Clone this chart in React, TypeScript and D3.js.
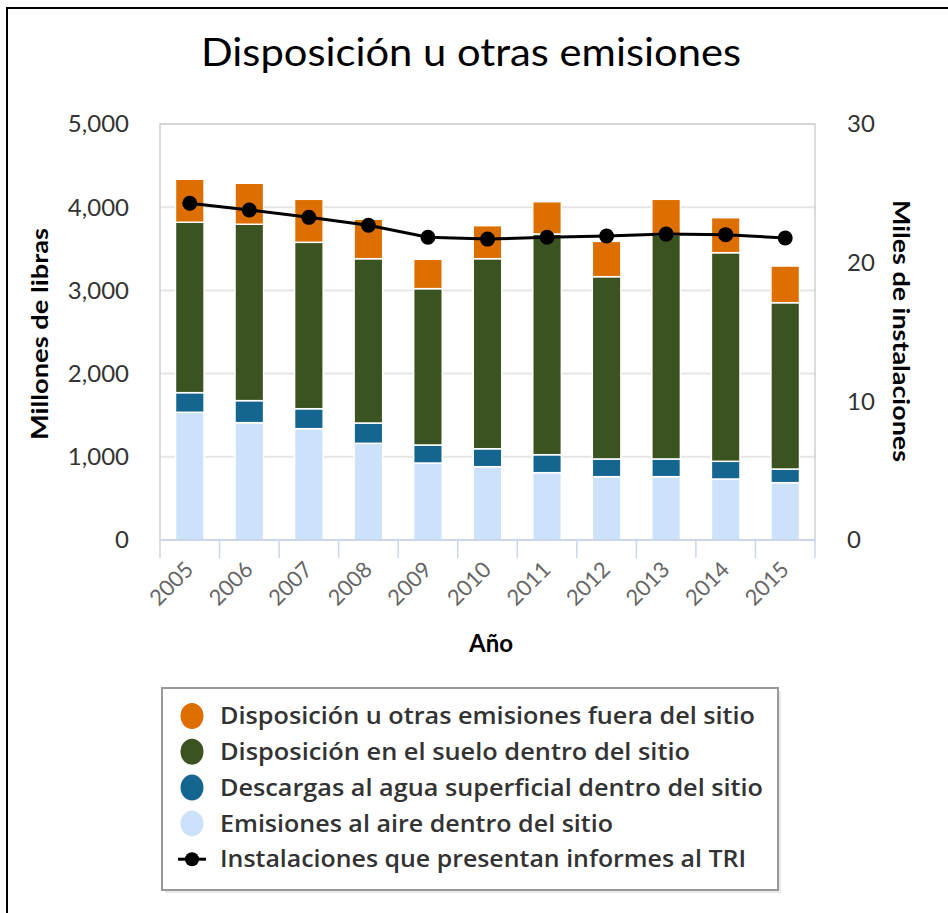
import React from "react";
import * as d3 from "d3";

const years = ["2005","2006","2007","2008","2009","2010","2011","2012","2013","2014","2015"];
const airOnsite = [1535, 1410, 1338, 1162, 925, 881, 809, 761, 761, 733, 689];
const waterOnsite = [236, 265, 240, 244, 217, 216, 216, 213, 213, 213, 164];
const landOnsite = [2048, 2120, 2000, 1975, 1879, 2284, 2653, 2191, 2692, 2507, 1999];
const offsite = [517, 493, 517, 474, 353, 397, 388, 425, 429, 421, 441];
const facilities = [24.28, 23.8, 23.27, 22.7, 21.83, 21.7, 21.83, 21.92, 22.06, 22.02, 21.78];

const leftTicks = [0, 1000, 2000, 3000, 4000, 5000];
const rightTicks = [0, 10, 20, 30];

const seriesNames = [
  "Disposición u otras emisiones fuera del sitio",
  "Disposición en el suelo dentro del sitio",
  "Descargas al agua superficial dentro del sitio",
  "Emisiones al aire dentro del sitio",
];
const lineName = "Instalaciones que presentan informes al TRI";
const seriesColors = ["#dd6e00", "#3b5320", "#156591", "#cce2fa"];
// widths of legend labels as measured on the reference
const legendWidths = [535, 470, 543, 393, 526];

const FONT = "Lato, 'Open Sans', sans-serif";
const LEGEND_FONT = "'Open Sans', Lato, sans-serif";

export default function App() {
  const W = 948, H = 913;
  const left = 160, right = 815, top = 124, bottom = 540;

  const x = d3.scaleBand<string>().domain(years).range([left, right]).padding(0);
  const y = d3.scaleLinear().domain([0, 5000]).range([bottom, top]);
  const y2 = d3.scaleLinear().domain([0, 30]).range([bottom, top]);
  const bw = x.bandwidth() * 0.48;

  const stackColors = [seriesColors[3], seriesColors[2], seriesColors[1], seriesColors[0]];

  const rows = years.map((yr, i) => ({
    year: yr,
    air: airOnsite[i],
    water: waterOnsite[i],
    land: landOnsite[i],
    off: offsite[i],
  }));
  const stack = d3.stack<any>().keys(["air", "water", "land", "off"])(rows);

  const line = d3
    .line<number>()
    .x((_, i) => (x(years[i]) as number) + x.bandwidth() / 2)
    .y((d) => y2(d));

  const tickPositions = years.map((yr) => x(yr) as number).concat([right]);
  const legendRow = (i: number) => 716 + i * 35.8;

  return (
    <svg
      width={W}
      height={H}
      style={{ position: "fixed", left: 0, top: 0, background: "#fff" }}
      fontFamily={FONT}
    >
      <rect x={0} y={0} width={W} height={H} fill="#fff" />
      {/* outer black frame */}
      <rect x={7} y={8} width={W + 20} height={H + 20} fill="none" stroke="#000" strokeWidth={2} />

      {/* title */}
      <text x={471} y={66} textAnchor="middle" fontSize={38} fill="#000" textLength={540} lengthAdjust="spacingAndGlyphs">
        Disposición u otras emisiones
      </text>

      {/* gridlines */}
      {leftTicks.map((t) => (
        <line key={"g" + t} x1={left} x2={right} y1={y(t)} y2={y(t)} stroke="#e6e6e6" strokeWidth={2} />
      ))}
      {/* plot border */}
      <rect x={left} y={top} width={right - left} height={bottom - top} fill="none" stroke="#d0d0d0" strokeWidth={1.5} />

      {/* bars */}
      {stack.map((layer, li) => (
        <g key={"l" + li} fill={stackColors[li]}>
          {layer.map((d, i) => (
            <rect
              key={i}
              x={(x(years[i]) as number) + (x.bandwidth() - bw) / 2}
              y={y(d[1])}
              width={bw}
              height={y(d[0]) - y(d[1])}
              stroke="#fff"
              strokeWidth={1.5}
            />
          ))}
        </g>
      ))}

      {/* x axis */}
      <line x1={left} x2={right} y1={bottom} y2={bottom} stroke="#ccd6eb" strokeWidth={2} />
      {tickPositions.map((p, i) => (
        <line key={"t" + i} x1={p} x2={p} y1={bottom} y2={bottom + 18} stroke="#ccd6eb" strokeWidth={1.5} />
      ))}
      {years.map((yr) => {
        const cx = (x(yr) as number) + x.bandwidth() / 2;
        return (
          <text
            key={"xl" + yr}
            transform={`translate(${cx + 5},${571}) rotate(-45)`}
            textAnchor="end"
            fontSize={22}
            fill="#666"
          >
            {yr}
          </text>
        );
      })}
      <text x={491} y={652} textAnchor="middle" fontSize={24} fontWeight="bold" fill="#000">
        Año
      </text>

      {/* left axis labels */}
      {leftTicks.map((t) => (
        <text key={"yl" + t} x={129} y={y(t)} dy="0.35em" textAnchor="end" fontSize={24} fill="#333">
          {d3.format(",")(t)}
        </text>
      ))}
      <text
        transform={`translate(48,${334}) rotate(-90)`}
        textAnchor="middle"
        fontSize={23}
        fontWeight="bold"
        fill="#000"
        textLength={212}
        lengthAdjust="spacingAndGlyphs"
      >
        Millones de libras
      </text>

      {/* right axis labels */}
      {rightTicks.map((t) => (
        <text key={"yr" + t} x={847} y={y2(t)} dy="0.35em" textAnchor="start" fontSize={24} fill="#333">
          {t}
        </text>
      ))}
      <text
        transform={`translate(893,${331}) rotate(90)`}
        textAnchor="middle"
        fontSize={23}
        fontWeight="bold"
        fill="#000"
        textLength={262}
        lengthAdjust="spacingAndGlyphs"
      >
        Miles de instalaciones
      </text>

      {/* line */}
      <path d={line(facilities) || ""} fill="none" stroke="#000" strokeWidth={3} />
      {facilities.map((f, i) => (
        <circle key={"m" + i} cx={(x(years[i]) as number) + x.bandwidth() / 2} cy={y2(f)} r={7.5} fill="#000" />
      ))}

      {/* legend */}
      <rect x={165} y={691} width={616} height={202} fill="#000" opacity={0.08} />
      <rect x={162} y={688} width={616} height={202} fill="#fff" stroke="#999" strokeWidth={2} />
      {seriesNames.map((n, i) => (
        <g key={"lg" + i}>
          <ellipse cx={192} cy={legendRow(i)} rx={11.5} ry={13} fill={seriesColors[i]} />
          <text
            x={220}
            y={legendRow(i)}
            dy="0.36em"
            fontFamily={LEGEND_FONT}
            fontSize={23}
            fontWeight={600}
            fill="#333"
            textLength={legendWidths[i]}
            lengthAdjust="spacingAndGlyphs"
          >
            {n}
          </text>
        </g>
      ))}
      <g>
        <line x1={178} x2={206} y1={legendRow(4)} y2={legendRow(4)} stroke="#000" strokeWidth={3} />
        <circle cx={192} cy={legendRow(4)} r={7} fill="#000" />
        <text
          x={220}
          y={legendRow(4)}
          dy="0.36em"
          fontFamily={LEGEND_FONT}
          fontSize={23}
          fontWeight={600}
          fill="#333"
          textLength={legendWidths[4]}
          lengthAdjust="spacingAndGlyphs"
        >
          {lineName}
        </text>
      </g>
    </svg>
  );
}
